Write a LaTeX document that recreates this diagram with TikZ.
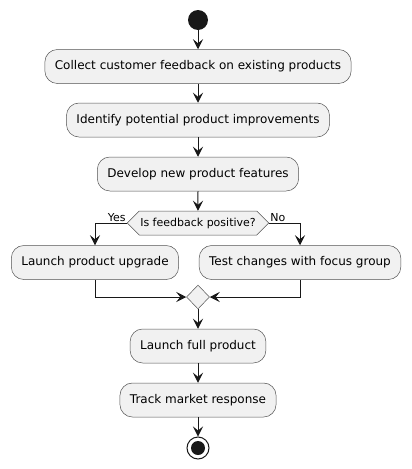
\documentclass[tikz,border=0pt]{standalone}
\usepackage{fontspec}
\setmainfont{DejaVu Sans}
\usetikzlibrary{arrows.meta,shapes.geometric,shapes.symbols}
\definecolor{actfill}{HTML}{F1F1F1}
\definecolor{actline}{HTML}{181818}
\tikzset{
  action/.style={draw=actline!75, fill=actfill, rounded corners=12.5pt, minimum height=34pt,
    inner xsep=10pt, line width=0.5pt, font=\fontsize{12}{14}\selectfont},
  choice/.style={draw=actline!75, fill=actfill, shape=signal, signal to=west and east,
    signal pointer angle=90, minimum height=24pt, inner xsep=1pt, inner ysep=0pt,
    line width=0.5pt, font=\fontsize{11}{13}\selectfont},
  merger/.style={draw=actline!75, fill=actfill, diamond, minimum width=23pt, minimum height=24pt,
    inner sep=0pt, line width=0.5pt},
  guard/.style={font=\fontsize{11}{13}\selectfont, inner sep=1pt},
  flow/.style={-{Stealth[length=10pt,width=10pt,inset=4pt]}, draw=actline, line width=1pt},
}
\begin{document}
\begin{tikzpicture}[x=1pt, y=-1pt]
    \useasboundingbox (0,0) rectangle (412,469);

    % Depart
    \node[circle, fill=actline, minimum size=20pt, inner sep=0pt] (start) at (198,20) {};

    % Etapes
    \node[action] (collect) at (198,66.5) {Collect customer feedback on existing products};
    \node[action] (identify) at (198,120) {Identify potential product improvements};
    \node[action] (develop) at (198,174) {Develop new product features};

    % Decision
    \node[choice] (check) at (198,223) {Is feedback positive?};
    \node[action] (upgrade) at (95,262.5) {Launch product upgrade};
    \node[action] (focus) at (300,262.5) {Test changes with focus group};

    % Fusion
    \node[merger] (merge) at (198,297) {};

    \node[action] (full) at (198,346) {Launch full product};
    \node[action] (track) at (198,400) {Track market response};

    % Fin
    \node[circle, draw=actline, fill=white, minimum size=22pt, inner sep=0pt, line width=1pt] (stop) at (198,448) {};
    \fill[actline] (stop.center) circle (7pt);

    % Fleches
    \draw[flow] (start) -- (collect);
    \draw[flow] (collect) -- (identify);
    \draw[flow] (identify) -- (develop);
    \draw[flow] (develop) -- (check);
    \draw[flow] (check.west) -| (upgrade.north);
    \draw[flow] (check.east) -| (focus.north);
    \node[guard, anchor=south east] (yes) at (check.west) {Yes};
    \node[guard, anchor=south west] (no) at (check.east) {No};
    \draw[flow] (upgrade.south) |- (merge.west);
    \draw[flow] (focus.south) |- (merge.east);
    \draw[flow] (merge) -- (full);
    \draw[flow] (full) -- (track);
    \draw[flow] (track) -- (stop);
\end{tikzpicture}
\end{document}
